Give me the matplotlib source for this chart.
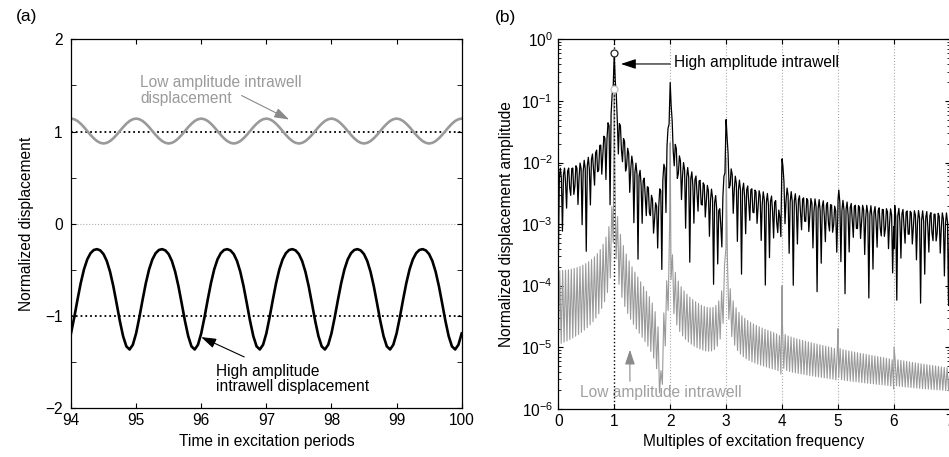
import matplotlib
matplotlib.use('Agg')
import matplotlib.pyplot as plt
from matplotlib.ticker import FixedLocator, LogLocator, NullFormatter
import numpy as np


# (a) one excitation period of each response, sampled every 1/20 period,
#     read off the time plot; the plot shows periods 94..100
period_start = 94
n_periods = 6
samples_per_period = 20
high_period = [-1.190, -1.016, -0.824, -0.643, -0.494, -0.387, -0.320, -0.285,
               -0.276, -0.290, -0.330, -0.405, -0.521, -0.677, -0.863, -1.054,
               -1.219, -1.330, -1.364, -1.313]
low_period = [1.140, 1.133, 1.114, 1.084, 1.047, 1.005, 0.963, 0.926,
              0.896, 0.877, 0.870, 0.877, 0.896, 0.926, 0.963, 1.005,
              1.047, 1.084, 1.114, 1.133]

# (b) harmonic peaks (multiples of excitation frequency)
harmonics = [1, 2, 3, 4, 5, 6]
high_peaks = [0.60, 0.20, 0.050, 0.0115, 0.0025, 0.0004]
low_peaks = [0.155, 0.021, 0.012, 0.0001, 0.00002, 0.00001]
high_phase = [0.785, 0.785, 0.785, 0.785, 0.785, 0.785]
low_phase = [1.571, 1.571, 0.0, 1.571, 1.571, 1.571]

# record lengths (in periods) and frequency resolution of the two spectra
high_record = 40
low_record = 600
high_step = 0.74 / 40
low_step = 15.5004 / 600
high_start = 0.01 / 40
low_start = 0.02 / 600

xticks_a = [94, 95, 96, 97, 98, 99, 100]
yticks_a = [-2, -1, 0, 1, 2]
xticks_b = [0, 1, 2, 3, 4, 5, 6, 7]

GREY = '#9a9a9a'


def spectrum(f, peaks, phases, record):
    # amplitude spectrum of a finite record of the harmonic response
    x = np.zeros(len(f), dtype=complex)
    for k, a, ph in zip(harmonics, peaks, phases):
        for sgn in (1, -1):
            nu = (f - sgn * k) * record
            x += 0.5 * a * np.exp(1j * sgn * ph) * np.exp(-1j * np.pi * nu) * np.sinc(nu)
    return 2 * np.abs(x)


def main():

    matplotlib.rc('font', family='Liberation Sans', size=11.2)
    matplotlib.rcParams.update({'mathtext.fontset': 'custom',
                                'mathtext.rm': 'Liberation Sans',
                                'mathtext.it': 'Liberation Sans:italic',
                                'axes.linewidth': 0.9,
                                'xtick.direction': 'in',
                                'ytick.direction': 'in',
                                'xtick.top': True,
                                'ytick.right': True,
                                'xtick.major.size': 3.5,
                                'ytick.major.size': 3.5,
                                'xtick.minor.size': 2,
                                'ytick.minor.size': 2})

    fig = plt.figure(figsize=(9.49, 4.57), dpi=100)

    #--------------------------------------------------------------------------
    # (a) time history

    ax = fig.add_axes([0.0748, 0.107, 0.4117, 0.807])

    n = n_periods * samples_per_period
    t = period_start + np.arange(n + 1) / samples_per_period
    high = np.array(high_period * n_periods + high_period[:1])
    low = np.array(low_period * n_periods + low_period[:1])

    ax.axhline(0, color='#b0b0b0', ls=':', lw=0.8, zorder=1)
    ax.axhline(1, color='k', ls=':', lw=1.3, zorder=1)
    ax.axhline(-1, color='k', ls=':', lw=1.3, zorder=1)

    ax.plot(t, low, color=GREY, lw=1.9, zorder=2)
    ax.plot(t, high, color='k', lw=1.9, zorder=2)

    ax.set_xlim(94, 100)
    ax.set_ylim(-2, 2)
    ax.xaxis.set_major_locator(FixedLocator(xticks_a))
    ax.yaxis.set_major_locator(FixedLocator(yticks_a))
    ax.yaxis.set_minor_locator(FixedLocator([-1.5, -0.5, 0.5, 1.5]))
    ax.tick_params(which='minor', length=3.5)
    ax.set_yticklabels(['\u22122', '\u22121', '0', '1', '2'])
    ax.tick_params(axis='y', pad=6)

    ax.set_xlabel('Time in excitation periods', labelpad=4)
    ax.set_ylabel('Normalized displacement', labelpad=8)

    ax.text(95.06, 1.61, 'Low amplitude intrawell\ndisplacement', color=GREY,
            ha='left', va='top', linespacing=1.05)
    ax.annotate('', xy=(97.35, 1.13), xytext=(96.62, 1.39),
                arrowprops=dict(arrowstyle='-|>,head_length=0.9,head_width=0.3',
                                color='#8a8a8a', lw=0.8, mutation_scale=10,
                                shrinkA=0, shrinkB=0))

    ax.text(96.23, -1.52, 'High amplitude\nintrawell displacement', color='k',
            ha='left', va='top', linespacing=1.05)
    ax.annotate('', xy=(96.0, -1.23), xytext=(96.66, -1.445),
                arrowprops=dict(arrowstyle='-|>,head_length=0.9,head_width=0.3',
                                color='k', lw=0.8, mutation_scale=10,
                                shrinkA=0, shrinkB=0))

    fig.text(0.017, 0.964, '(a)', fontsize=12.5, va='center')

    #--------------------------------------------------------------------------
    # (b) spectrum

    bx = fig.add_axes([0.5883, 0.1057, 0.4127, 0.8079])

    f_high = np.sort(np.concatenate([np.arange(high_start, 7.3, high_step), harmonics]))
    f_low = np.sort(np.concatenate([np.arange(low_start, 7.3, low_step), harmonics]))
    s_high = spectrum(f_high, high_peaks, high_phase, high_record)
    s_low = spectrum(f_low, low_peaks, low_phase, low_record)

    for xg in xticks_b[2:]:
        bx.axvline(xg, color='#a8a8a8', ls=':', lw=0.8, zorder=1)

    bx.semilogy(f_low, s_low, color=GREY, lw=0.8, zorder=2)
    bx.semilogy(f_high, s_high, color='k', lw=0.9, zorder=3)
    bx.axvline(1, color='k', ls=':', lw=1.0, zorder=4)

    bx.plot([1], [high_peaks[0]], 'o', ms=5, mfc='white', mec='#222222', mew=0.9, zorder=5)
    bx.plot([1], [low_peaks[0]], 'o', ms=5, mfc='white', mec='#c0c0c0', mew=0.9, zorder=5)

    bx.set_xlim(0, 7)
    bx.set_ylim(1e-6, 1)
    bx.xaxis.set_major_locator(FixedLocator(xticks_b))
    bx.yaxis.set_major_locator(LogLocator(base=10, numticks=10))
    bx.yaxis.set_minor_locator(LogLocator(base=10, subs=np.arange(2, 10), numticks=20))
    bx.yaxis.set_minor_formatter(NullFormatter())
    bx.tick_params(axis='y', pad=4)

    bx.set_xlabel('Multiples of excitation frequency', labelpad=4)
    bx.set_ylabel('Normalized displacement amplitude', labelpad=5)

    bx.text(2.07, 0.415, 'High amplitude intrawell', color='k', ha='left', va='center')
    bx.annotate('', xy=(1.12, 0.40), xytext=(2.0, 0.40),
                arrowprops=dict(arrowstyle='-|>,head_length=0.9,head_width=0.3',
                                color='k', lw=0.8, mutation_scale=10,
                                shrinkA=0, shrinkB=0))

    bx.text(0.39, 1.8e-6, 'Low amplitude intrawell', color='#a0a0a0', ha='left', va='center')
    bx.annotate('', xy=(1.28, 9.1e-6), xytext=(1.28, 2.8e-6),
                arrowprops=dict(arrowstyle='-|>,head_length=0.9,head_width=0.3',
                                color='#8a8a8a', lw=0.8, mutation_scale=10,
                                shrinkA=0, shrinkB=0))

    fig.text(0.5216, 0.962, '(b)', fontsize=12.5, va='center')

    fig.savefig('out.png', dpi=100)


if __name__ == "__main__":
    main()
